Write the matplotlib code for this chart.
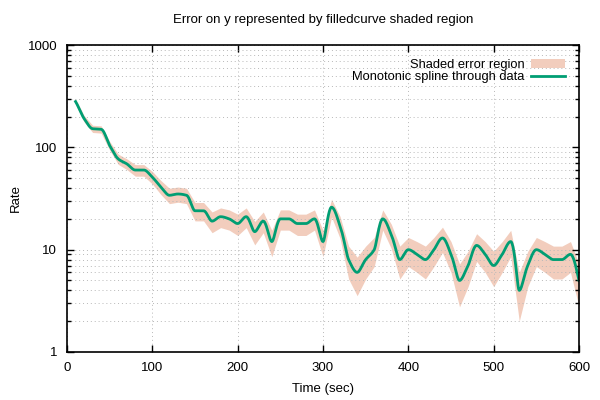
import numpy as np
import matplotlib
matplotlib.use("Agg")
import matplotlib.pyplot as plt
from matplotlib.ticker import LogLocator, FixedLocator, NullFormatter

plt.rcParams['font.family'] = ['Liberation Sans', 'DejaVu Sans']
plt.rcParams['font.size'] = 9.5

# data (time, rate, error on rate)
time = [10, 20, 30, 40, 50, 60, 70, 80, 90, 100,
        110, 120, 130, 140, 150, 160, 170, 180, 190, 200,
        210, 220, 230, 240, 250, 260, 270, 280, 290, 300,
        310, 320, 330, 340, 350, 360, 370, 380, 390, 400,
        410, 420, 430, 440, 450, 460, 470, 480, 490, 500,
        510, 520, 530, 540, 550, 560, 570, 580, 590, 600]
rate = [280, 191, 152, 150, 104, 77, 69, 60, 60, 51,
        41, 34, 35, 34, 24, 24, 19, 21, 20, 18,
        21, 15, 19, 12, 20, 20, 18, 18, 20, 12,
        26, 17, 8, 6, 8, 10, 20, 14, 8, 10,
        9, 8, 10, 13, 9, 5, 7, 11, 9, 7,
        9, 12, 4, 7, 10, 9, 8, 8, 9, 5]
err = [16.73, 13.82, 12.33, 12.25, 10.20, 8.77, 8.31, 7.75, 7.75, 7.14,
       6.40, 5.83, 5.92, 5.83, 4.90, 4.90, 4.36, 4.58, 4.47, 4.24,
       4.58, 3.87, 4.36, 3.46, 4.47, 4.47, 4.24, 4.24, 4.47, 3.46,
       5.10, 4.12, 2.83, 2.45, 2.83, 3.16, 4.47, 3.74, 2.83, 3.16,
       3.00, 2.83, 3.16, 3.61, 3.00, 2.24, 2.65, 3.32, 3.00, 2.65,
       3.00, 3.46, 2.00, 2.65, 3.16, 3.00, 2.83, 2.83, 3.00, 2.24]


def mcspline(x, y, n=20):
    # monotone cubic (Fritsch-Carlson) through the points
    x = np.asarray(x, float)
    y = np.asarray(y, float)
    h = np.diff(x)
    d = np.diff(y) / h
    m = np.zeros_like(y)
    m[0], m[-1] = d[0], d[-1]
    for i in range(1, len(y) - 1):
        if d[i - 1] * d[i] > 0:
            w1 = 2 * h[i] + h[i - 1]
            w2 = h[i] + 2 * h[i - 1]
            m[i] = (w1 + w2) / (w1 / d[i - 1] + w2 / d[i])
    xs, ys = [], []
    for i in range(len(x) - 1):
        t = np.linspace(0, 1, n, endpoint=False)
        h00 = 2 * t**3 - 3 * t**2 + 1
        h10 = t**3 - 2 * t**2 + t
        h01 = -2 * t**3 + 3 * t**2
        h11 = t**3 - t**2
        xs.append(x[i] + t * h[i])
        ys.append(h00 * y[i] + h10 * h[i] * m[i] + h01 * y[i + 1] + h11 * h[i] * m[i + 1])
    xs.append([x[-1]])
    ys.append([y[-1]])
    return np.concatenate(xs), np.concatenate(ys)


t = np.array(time, float)
r = np.array(rate, float)
e = np.array(err, float)

fig = plt.figure(figsize=(6, 4), dpi=100)
ax = fig.add_axes([0.1117, 0.12, 0.8533, 0.7675])

ax.fill_between(t, r - e, r + e, color='#f2cdbd', lw=0, label='Shaded error region')
sx, sy = mcspline(t, r)
ax.plot(sx, sy, color='#009e73', lw=2, label='Monotonic spline through data')

ax.set_yscale('log')
ax.set_xlim(0, 600)
ax.set_ylim(1, 1000)
ax.xaxis.set_major_locator(FixedLocator([0, 100, 200, 300, 400, 500, 600]))
ax.yaxis.set_major_locator(LogLocator(base=10))
ax.yaxis.set_minor_locator(LogLocator(base=10, subs=np.arange(2, 10)))
ax.yaxis.set_minor_formatter(NullFormatter())
ax.set_yticks([1, 10, 100, 1000])
ax.set_yticklabels(['1', '10', '100', '1000'])

ax.grid(True, which='major', color='#b8b8b8', ls=(0, (1, 3)), lw=0.7)
ax.grid(True, which='minor', axis='y', color='#b8b8b8', ls=(0, (1, 3)), lw=0.7)
ax.tick_params(which='both', direction='in', top=True, right=True, width=1)
ax.tick_params(which='major', length=5, pad=7)
ax.tick_params(which='minor', length=3)
for s in ax.spines.values():
    s.set_linewidth(1.2)

ax.set_xlabel('Time (sec)', labelpad=7)
ax.set_ylabel('Rate', labelpad=4)
ax.set_title('Error on y represented by filledcurve shaded region', fontsize=9.5, pad=16)

ax.legend(loc='upper right', frameon=False, markerfirst=False, handlelength=2.6,
          borderaxespad=0.8, borderpad=0.3, labelspacing=0.0, handletextpad=0.5,
          fontsize=9.3)

fig.savefig('out.png', dpi=100)
